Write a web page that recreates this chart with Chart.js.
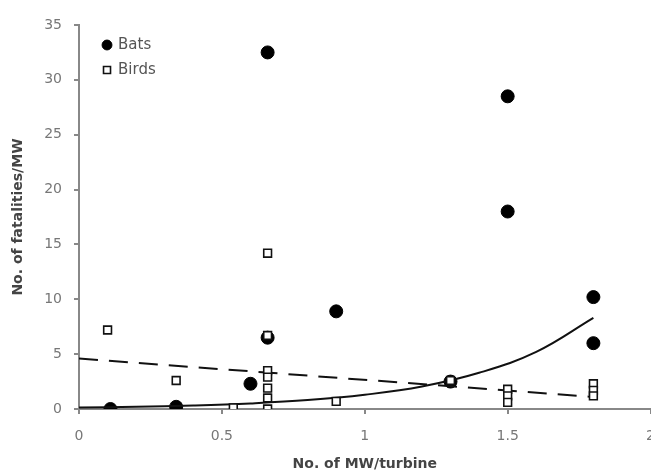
<!DOCTYPE html>
<html><head><meta charset="utf-8">
<script src="https://cdn.jsdelivr.net/npm/chart.js@4/dist/chart.umd.min.js"></script>
<style>html,body{margin:0;padding:0;background:#fff;overflow:hidden}#wrap{width:651px;height:474px;position:relative;overflow:hidden}</style>
</head><body><div id="wrap"><canvas id="c" width="669" height="474"></canvas></div>
<script>
const batX = [0.11, 0.34, 0.60, 0.66, 0.66, 0.90, 1.30, 1.50, 1.50, 1.80, 1.80];
const batY = [0.0, 0.2, 2.3, 32.5, 6.5, 8.9, 2.5, 28.5, 18.0, 10.2, 6.0];
const birdX = [0.10, 0.34, 0.54, 0.66, 0.66, 0.66, 0.66, 0.66, 0.66, 0.66, 0.90, 1.30, 1.50, 1.50, 1.50, 1.80, 1.80, 1.80];
const birdY = [7.2, 2.6, 0.1, 14.2, 6.7, 3.5, 2.9, 1.9, 1.0, 0.0, 0.7, 2.6, 1.8, 1.2, 0.6, 2.3, 1.7, 1.2];
const batTrendX = [0, 0.2, 0.4, 0.6, 0.8, 1.0, 1.2, 1.4, 1.6, 1.8];
const batTrendY = [0.13, 0.2, 0.32, 0.51, 0.81, 1.3, 2.05, 3.3, 5.2, 8.3];
const birdTrendX = [0, 1.8];
const birdTrendY = [4.6, 1.1];
const xTicks = [0, 0.5, 1, 1.5, 2];
const yTicks = [0, 5, 10, 15, 20, 25, 30, 35];

const pts = (xs, ys) => xs.map((x, i) => ({x, y: ys[i]}));
const FONT = "'DejaVu Sans', Verdana, sans-serif";

const legendShift = {
  id: 'legendShift',
  afterLayout(chart) {
    const lg = chart.legend;
    if (!lg) return;
    const dx = 14.5, dy = 27.5;
    lg.left += dx; lg.right += dx; lg.top += dy; lg.bottom += dy;
    if (lg.legendHitBoxes) lg.legendHitBoxes.forEach(h => { h.left += dx; h.top += dy; });
  }
};

new Chart(document.getElementById('c'), {
  type: 'scatter',
  plugins: [legendShift],
  data: {
    datasets: [
      {label: 'Bats', data: pts(batX, batY), order: 3, pointStyle: 'circle', pointRadius: 6.5,
       backgroundColor: '#000', borderColor: '#000', borderWidth: 1, showLine: false},
      {label: 'Birds', data: pts(birdX, birdY), order: 1, pointStyle: 'rect', pointRadius: 5.5,
       backgroundColor: '#fff', borderColor: '#111', borderWidth: 1.6, showLine: false},
      {label: 'batTrend', data: pts(batTrendX, batTrendY), order: 2, showLine: true, pointRadius: 0,
       borderColor: '#111', borderWidth: 2, tension: 0.4, fill: false},
      {label: 'birdTrend', data: pts(birdTrendX, birdTrendY), order: 2, showLine: true, pointRadius: 0,
       borderColor: '#111', borderWidth: 2, borderDash: [19, 11], fill: false}
    ]
  },
  options: {
    responsive: false, animation: false,
    layout: {padding: {left: 9.6, top: 25, right: 0, bottom: 0}},
    plugins: {
      tooltip: {enabled: false},
      legend: {
        position: 'chartArea', align: 'start',
        labels: {
          filter: (it) => it.text === 'Bats' || it.text === 'Birds',
          sort: (a, b) => a.datasetIndex - b.datasetIndex,
          usePointStyle: true, boxWidth: 7, boxHeight: 7, padding: 10,
          font: {family: FONT, size: 15}, color: '#555'
        }
      }
    },
    scales: {
      x: {
        type: 'linear', min: 0, max: 2,
        afterBuildTicks: (s) => { s.ticks = xTicks.map(v => ({value: v})); },
        ticks: {font: {family: FONT, size: 14}, color: '#777', padding: 14, callback: (v) => String(v)},
        grid: {drawOnChartArea: false, tickLength: 5, color: '#888', lineWidth: 2},
        border: {color: '#888', width: 2},
        title: {display: true, text: 'No. of MW/turbine', font: {family: FONT, size: 14, weight: 'bold'}, color: '#444', padding: {top: -3.2, bottom: 1.6}}
      },
      y: {
        type: 'linear', min: 0, max: 35,
        afterBuildTicks: (s) => { s.ticks = yTicks.map(v => ({value: v})); },
        ticks: {font: {family: FONT, size: 14}, color: '#777', padding: 12},
        grid: {drawOnChartArea: false, tickLength: 5, color: '#888', lineWidth: 2},
        border: {color: '#888', width: 2},
        title: {display: true, text: 'No. of fatalities/MW', font: {family: FONT, size: 14, weight: 'bold'}, color: '#444', padding: {top: 0, bottom: 5.8}}
      }
    }
  }
});
</script></body></html>
